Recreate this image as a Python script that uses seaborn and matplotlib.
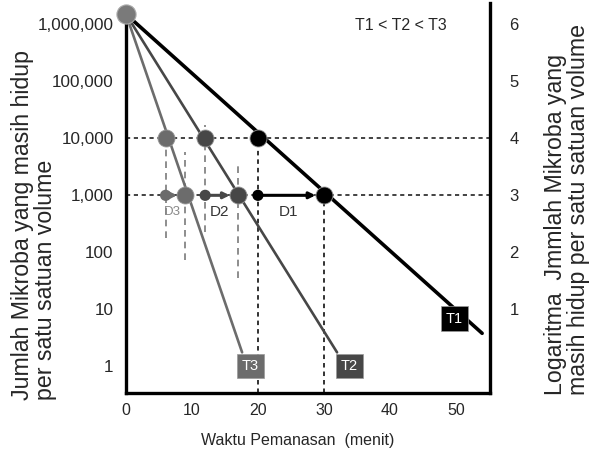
import numpy as np
import pandas as pd
import seaborn as sns
import matplotlib.pyplot as plt

# Data
curves = ['T1', 'T2', 'T3']
line_t = [[0, 54], [0, 32], [0, 17.6]]          # menit
line_n = [[1.5e6, 3.8], [1.5e6, 1.76], [1.5e6, 1.76]]
t_at_10k = [20, 12, 6]                           # time where curve hits 10,000
t_at_1k = [30, 17, 9]                            # time where curve hits 1,000
d_names = ['D1', 'D2', 'D3']
guide_top = [None, [1.7e4, 3650], [1e4, 5700]]   # dashed guides for T2, T3
guide_bot = [None, [225, 36], [182, 72]]
label_t = [49.8, 33.9, 18.9]
label_n = [6.9, 1.0, 1.0]

left_ticks = [1, 10, 100, 1000, 10000, 100000, 1000000]
left_labels = ['1', '10', '100', '1,000', '10,000', '100,000', '1,000,000']
right_ticks = [1, 2, 3, 4, 5, 6]
x_ticks = [0, 10, 20, 30, 40, 50]

colors = ['#000000', '#474747', '#6c6c6c']
widths = [2.6, 1.9, 1.9]

sns.set_style('white')
plt.rcParams['font.family'] = ['Liberation Sans', 'DejaVu Sans']

fig = plt.figure(figsize=(5.89, 4.54), dpi=100)
ax = fig.add_axes([0.214, 0.134, 0.618, 0.859])
ylo, yhi = 10 ** -0.47, 10 ** 6.37
ax.set_yscale('log')
ax.set_xlim(0, 55.2)
ax.set_ylim(ylo, yhi)

dot = (0, (2.5, 2.2))
ax.axhline(1e4, color='#222222', lw=1.2, ls=dot, zorder=1)
ax.axhline(1e3, color='#222222', lw=1.2, ls=dot, zorder=1)
ax.vlines(t_at_10k[0], ylo, 1e4, color='#222222', lw=1.3, ls=dot, zorder=1)
ax.vlines(t_at_1k[0], ylo, 1e3, color='#222222', lw=1.3, ls=dot, zorder=1)

for i in range(1, 3):
    xs = [t_at_10k[i], t_at_1k[i]]
    for x, top, bot in zip(xs, guide_top[i], guide_bot[i]):
        ax.vlines(x, bot, top, color='#7a7a7a', lw=1.2, ls=(0, (4, 3)), zorder=1)

for i, name in enumerate(curves):
    df = pd.DataFrame({'t': line_t[i], 'n': line_n[i]})
    sns.lineplot(data=df, x='t', y='n', color=colors[i], lw=widths[i], ax=ax, zorder=3)

    pts = pd.DataFrame({'t': [t_at_10k[i], t_at_1k[i]], 'n': [1e4, 1e3]})
    sns.scatterplot(data=pts, x='t', y='n', color=colors[i], s=150, edgecolor='#999999',
                    linewidth=0.6, ax=ax, zorder=5)
    start = pd.DataFrame({'t': [t_at_10k[i]], 'n': [1e3]})
    sns.scatterplot(data=start, x='t', y='n', color=colors[i], s=65, edgecolor='none',
                    ax=ax, zorder=5)

    ax.annotate('', xy=(t_at_1k[i], 1e3), xytext=(t_at_10k[i], 1e3),
                arrowprops=dict(arrowstyle='-|>', color=colors[i], lw=2.2,
                                shrinkA=0, shrinkB=6, mutation_scale=9), zorder=4)
    dcol = '#888888' if i == 2 else '#333333'
    ax.text((t_at_10k[i] + t_at_1k[i]) / 2 - 0.4, 500, d_names[i], ha='center', va='center',
            fontsize=11 if i < 2 else 9.5, color=dcol)

    ax.text(label_t[i], label_n[i], name, ha='center', va='center', fontsize=10.5,
            color='white', zorder=6,
            bbox=dict(boxstyle='square,pad=0.35', fc=colors[i], ec='#999999', lw=0.5))

# starting point
ax.scatter([0], [1.5e6], s=190, color='#7a7a7a', edgecolor='#aaaaaa', lw=0.8,
           zorder=7, clip_on=False)

ax.text(41.7, 10 ** 5.98, 'T1 < T2 < T3', ha='center', va='center', fontsize=11.5)

for side in ['left', 'bottom', 'right']:
    ax.spines[side].set_visible(True)
    ax.spines[side].set_color('black')
    ax.spines[side].set_linewidth(2.4)
ax.spines['top'].set_visible(False)
ax.spines['left'].set_bounds(ylo, 1.5e6)

ax.set_xticks(x_ticks)
ax.set_xticklabels([str(v) for v in x_ticks], fontsize=11.5)
ax.set_yticks(left_ticks)
ax.set_yticklabels(left_labels, fontsize=12.3)
ax.yaxis.set_minor_locator(plt.NullLocator())
ax.tick_params(axis='both', length=0)
ax.tick_params(axis='y', pad=9)
ax.tick_params(axis='x', pad=7)
ax.set_xlabel('')
ax.set_ylabel('')

ax2 = ax.twinx()
ax2.set_yscale('log')
ax2.set_ylim(ylo, yhi)
ax2.set_yticks([10.0 ** v for v in right_ticks])
ax2.set_yticklabels([str(v) for v in right_ticks], fontsize=12)
ax2.yaxis.set_minor_locator(plt.NullLocator())
ax2.tick_params(axis='y', length=0, pad=14)
for s in ax2.spines.values():
    s.set_visible(False)

fig.text(0.505, 1 - 440 / 454, 'Waktu Pemanasan  (menit)', ha='center', va='center',
         fontsize=11.5)
fig.text(34 / 589, 1 - 400 / 454, 'Jumlah Mikroba yang masih hidup\nper satu satuan volume',
         rotation=90, ha='center', va='bottom', multialignment='left', fontsize=16.7,
         linespacing=1.0)
fig.text(567 / 589, 1 - 395 / 454,
         'Logaritma  Jmmlah Mikroba yang\nmasih hidup per satu satuan volume',
         rotation=90, ha='center', va='bottom', multialignment='left', fontsize=16.7,
         linespacing=1.0)

fig.savefig('out.png', dpi=100)
